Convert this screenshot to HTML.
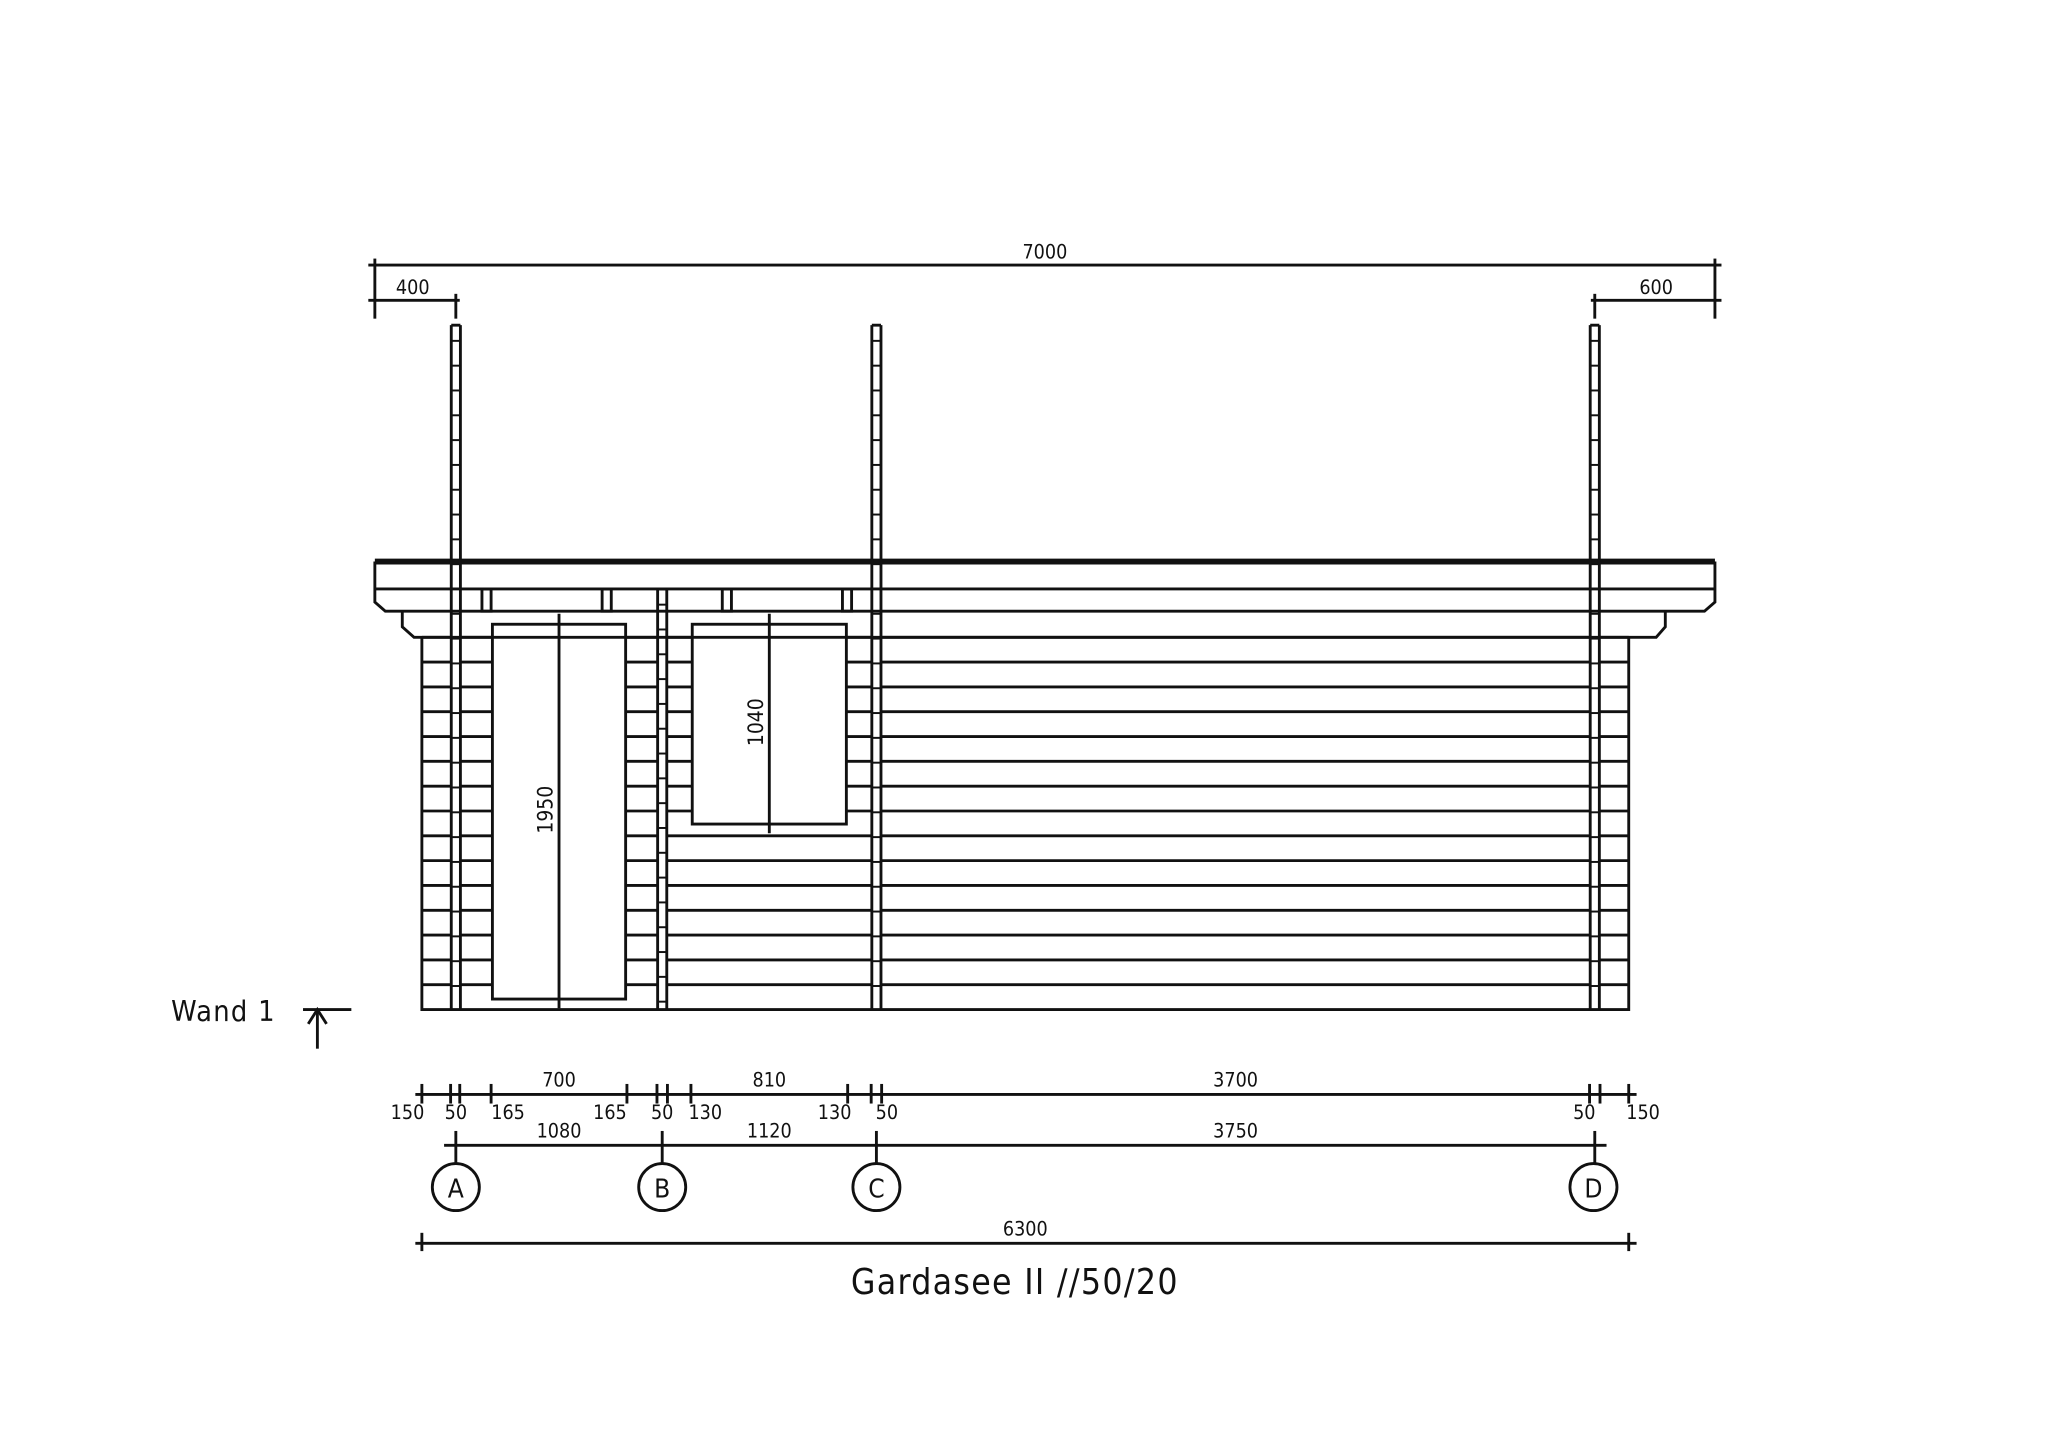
<!DOCTYPE html>
<html><head><meta charset="utf-8"><style>
html,body{margin:0;padding:0;background:#fff;width:2048px;height:1447px;overflow:hidden}
svg{display:block}
text{font-family:"DejaVu Sans Condensed","Liberation Sans",sans-serif;fill:#111;font-weight:500}
</style></head><body>
<svg id="s" width="2048" height="1447" viewBox="0 0 1568 1108" preserveAspectRatio="none" xmlns="http://www.w3.org/2000/svg">
<g stroke="#111" stroke-width="2.2" fill="none" id="g">
<line x1="282" y1="203" x2="1318" y2="203"/>
<line x1="282" y1="230" x2="352" y2="230"/>
<line x1="1218" y1="230" x2="1318" y2="230"/>
<line x1="287" y1="198" x2="287" y2="244"/>
<line x1="1313" y1="198" x2="1313" y2="244"/>
<line x1="349" y1="225" x2="349" y2="244"/>
<line x1="1221" y1="225" x2="1221" y2="244"/>
<line x1="287" y1="430" x2="1313" y2="430" stroke-width="4.5"/>
<path d="M287 430 V461 L295 468 H1305 L1313 461 V430"/>
<line x1="287" y1="451" x2="1313" y2="451"/>
<path d="M308 468 V480 L317 488 H1268 L1275 480 V468"/>
<path d="M323 488 V773 H1247 V488"/>
<rect x="369" y="451" width="7" height="17"/>
<rect x="461" y="451" width="7" height="17"/>
<rect x="553" y="451" width="7" height="17"/>
<rect x="645" y="451" width="7" height="17"/>
<rect x="377" y="478" width="102" height="287"/>
<line x1="428" y1="470" x2="428" y2="772"/>
<rect x="530" y="478" width="118" height="153"/>
<line x1="589" y1="470" x2="589" y2="638"/>
<line x1="232" y1="773" x2="269" y2="773"/>
<line x1="243" y1="773" x2="243" y2="803"/>
<path d="M236 784 L243 773 L250 784"/>
<line x1="318" y1="838" x2="1253" y2="838"/>
<line x1="340" y1="877" x2="1230" y2="877"/>
<line x1="318" y1="952" x2="1253" y2="952"/>
<line x1="323" y1="944" x2="323" y2="958"/>
<line x1="1247" y1="944" x2="1247" y2="958"/>
<circle cx="349" cy="909" r="18"/>
<circle cx="507" cy="909" r="18"/>
<circle cx="671" cy="909" r="18"/>
<circle cx="1220" cy="909" r="18"/>
</g>
<g font-size="15" text-anchor="middle">
<text x="800" y="198">7000</text>
<text x="316" y="225">400</text>
<text x="1268" y="225">600</text>
<text x="428" y="832">700</text><text x="589" y="832">810</text><text x="946" y="832">3700</text>
<text x="312" y="857">150</text><text x="349" y="857">50</text><text x="389" y="857">165</text>
<text x="467" y="857">165</text><text x="507" y="857">50</text><text x="540" y="857">130</text>
<text x="639" y="857">130</text><text x="679" y="857">50</text><text x="1213" y="857">50</text>
<text x="1258" y="857">150</text>
<text x="428" y="871">1080</text><text x="589" y="871">1120</text><text x="946" y="871">3750</text>
<text x="785" y="946">6300</text>
<text x="349" y="917" font-size="20">A</text><text x="507" y="917" font-size="20">B</text>
<text x="671" y="917" font-size="20">C</text><text x="1220" y="917" font-size="20">D</text>
<text transform="translate(423,620) rotate(-90)" font-size="16">1950</text>
<text transform="translate(584,553) rotate(-90)" font-size="16">1040</text>
</g>
<text x="131" y="782" font-size="22" letter-spacing="1">Wand 1</text>
<text x="777" y="991" font-size="27" text-anchor="middle" letter-spacing="1">Gardasee II //50/20</text>
</svg>
<script>
var g=document.getElementById('g'),NS="http://www.w3.org/2000/svg";
function L(a,b,c,d,w){var l=document.createElementNS(NS,'line');l.setAttribute('x1',a);l.setAttribute('y1',b);l.setAttribute('x2',c);l.setAttribute('y2',d);if(w)l.setAttribute('stroke-width',w);g.appendChild(l);}
for(var y=488;y<773;y+=19){
 var seg=[[323,346],[352,377],[479,504],[511,1217],[1225,1247]];
 seg.forEach(function(s){
  var a=s[0],b=s[1];
  if(a==511&&y>=478&&y<=631){L(511,y,530,y);L(648,y,668,y);L(675,y,1217,y);return;}
  if(a==511){L(511,y,668,y);L(675,y,1217,y);return;}
  if(a==352&&y>=478&&y<=765){return;}
  if(a==479&&y>=478&&y<=765){L(479,y,504,y);return;}
  L(a,y,b,y);
 });
 if(y>=478&&y<=765)L(352,y,377,y);
}
function post(x,y1,y2){L(x-3.5,y1,x-3.5,y2);L(x+3.5,y1,x+3.5,y2);L(x-3.5,y1,x+3.5,y1);
 for(var y=y1+12;y<y2;y+=19)L(x-3.5,y,x+3.5,y,1.5);}
post(349,249,773);post(671,249,773);post(1221,249,773);post(507,451,773);
[323,345,352,376,480,503,511,529,649,667,675,1217,1225,1247].forEach(function(x){L(x,830,x,845);});
[349,507,671,1221].forEach(function(x){L(x,866,x,891);});
</script>
</body></html>
